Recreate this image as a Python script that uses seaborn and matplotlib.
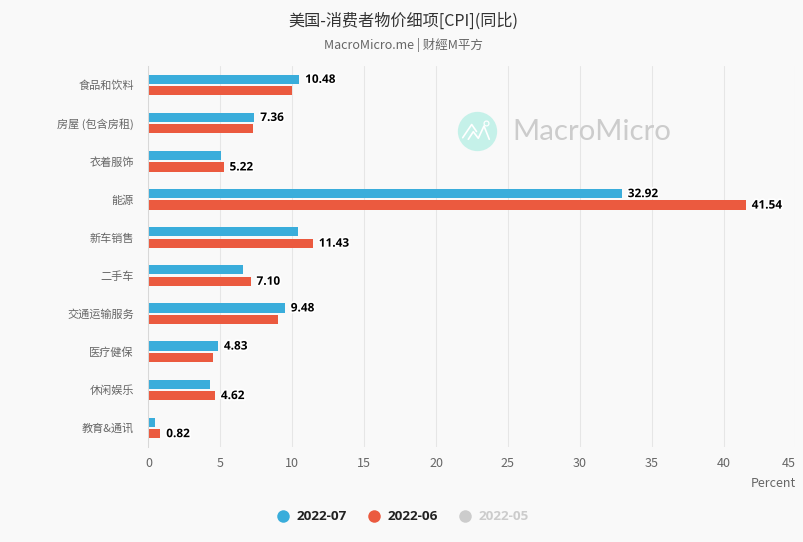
import matplotlib
matplotlib.use("Agg")
import matplotlib.pyplot as plt
import matplotlib.patheffects as pe
from matplotlib.lines import Line2D
import pandas as pd
import seaborn as sns

categories = ["食品和饮料", "房屋 (包含房租)", "衣着服饰", "能源", "新车销售", "二手车",
              "交通运输服务", "医疗健保", "休闲娱乐", "教育&通讯"]
jul_values = [10.48, 7.36, 5.04, 32.92, 10.40, 6.60, 9.48, 4.83, 4.30, 0.45]
jun_values = [9.98, 7.27, 5.22, 41.54, 11.43, 7.10, 9.00, 4.50, 4.62, 0.82]
series_names = ["2022-07", "2022-06"]
hidden_series = "2022-05"
x_ticks = list(range(0, 50, 5))
# which series print their value in each category
labelled_jul = [True, True, False, True, False, False, True, True, False, False]
labelled_jun = [False, False, True, True, True, True, False, False, True, True]

W, H = 804, 542
BG = "#f9f9f9"
BLUE, RED = "#3aaddb", "#eb5a3f"
CJK = ["Noto Sans CJK SC", "DejaVu Sans"]
LATIN = ["Open Sans", "DejaVu Sans"]

sns.set_theme(style="white")
plt.rcParams["font.family"] = CJK
plt.rcParams["axes.unicode_minus"] = False

df = pd.DataFrame({
    "category": categories * 2,
    "value": jul_values + jun_values,
    "series": [series_names[0]] * len(categories) + [series_names[1]] * len(categories),
})

fig = plt.figure(figsize=(W / 100, H / 100), dpi=100, facecolor=BG)
ax = fig.add_axes([148.5 / W, 1 - 447 / H, 647 / W, (447 - 66) / H], facecolor=BG)

ax.set_axisbelow(True)
ax.xaxis.grid(True, color="#e6e6e6", lw=0.75)
ax.yaxis.grid(False)

sns.barplot(data=df, y="category", x="value", hue="series", order=categories,
            hue_order=series_names, palette=[BLUE, RED], width=0.6, gap=0.2,
            saturation=1, legend=False, ax=ax, edgecolor="none", zorder=3)

ax.set_xlim(0, 45)
ax.set_ylim(len(categories) - 0.5, -0.5)
ax.set_xticks(x_ticks)
ax.set_xlabel("")
ax.set_ylabel("")
for s in ["top", "right", "bottom"]:
    ax.spines[s].set_visible(False)
ax.spines["left"].set_color("#d8d8d8")
ax.spines["left"].set_linewidth(0.75)
ax.spines["left"].set_zorder(4)
ax.tick_params(axis="x", length=0, pad=7, labelsize=9, labelcolor="#666666")
ax.tick_params(axis="y", length=0, pad=10.5, labelsize=8, labelcolor="#666666")
ax.get_xticklabels()[-1].set_ha("right")

# value labels
halo = [pe.withStroke(linewidth=2.5, foreground="white")]
def put_labels(values, flags, offset):
    for i, (v, on) in enumerate(zip(values, flags)):
        if on:
            ax.annotate(f"{v:.2f}", xy=(v, i + offset), xytext=(4.3, 0), textcoords="offset points",
                        ha="left", va="center", fontsize=8.5, fontweight="bold", color="black",
                        family=LATIN, path_effects=halo, zorder=6)
put_labels(jul_values, labelled_jul, -0.15)
put_labels(jun_values, labelled_jun, 0.15)

# titles
fig.text(403 / W, 1 - 21 / H, "美国-消费者物价细项[CPI](同比)", ha="center", va="center",
         fontsize=11.6, color="#333333")
fig.text(403 / W, 1 - 45 / H, "MacroMicro.me | 财經M平方", ha="center", va="center",
         fontsize=9, color="#666666")
fig.text(796 / W, 1 - 483.5 / H, "Percent", ha="right", va="center", fontsize=9, color="#666666")

# legend
legend_items = [(283, 297, series_names[0], BLUE, "#222222"),
                (374, 388, series_names[1], RED, "#222222"),
                (465, 479, hidden_series, "#cccccc", "#cccccc")]
for cx, tx, label, col, tcol in legend_items:
    fig.add_artist(Line2D([cx / W], [1 - 516 / H], marker="o", ms=9, color=col, mec="none",
                          ls="none", transform=fig.transFigure))
    fig.text(tx / W, 1 - 516.5 / H, label, ha="left", va="center", fontsize=9.7, fontweight="bold",
             color=tcol, family=LATIN)

# watermark
fig.text(512 / W, 1 - 132 / H, "MacroMicro", ha="left", va="center", fontsize=21.2,
         color="#cccccc", family=["Lato", "DejaVu Sans"], zorder=2)
fig.add_artist(Line2D([476.7 / W], [1 - 131 / H], marker="o", ms=28.3, color="#c5f1e9", mec="none",
                      ls="none", transform=fig.transFigure, zorder=2))
def logo(xs, ys):
    fig.add_artist(Line2D([x / W for x in xs], [1 - y / H for y in ys], color="white", lw=1.2,
                          transform=fig.transFigure, zorder=3))
logo([462.7, 471.7, 476.5], [137.7, 124.5, 131.5])
logo([468.3, 473.3, 478.3, 484, 489.3], [139.3, 131.7, 138.3, 126, 139.3])
fig.add_artist(Line2D([485.7 / W], [1 - 123.3 / H], marker="o", ms=3.5, mfc="none", mec="white", mew=0.9,
                      ls="none", transform=fig.transFigure, zorder=3))

fig.savefig("out.png", dpi=100, facecolor=BG)
